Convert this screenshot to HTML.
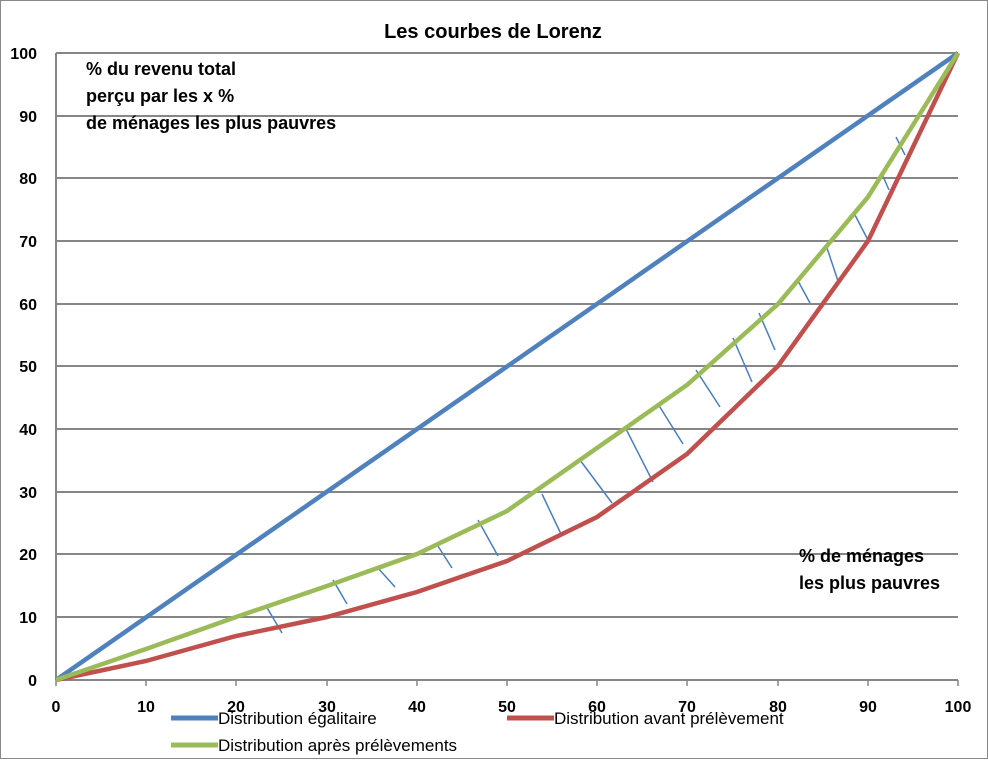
<!DOCTYPE html>
<html><head><style>
body{margin:0;background:#fff}
svg text{font-family:"Liberation Sans",sans-serif;font-weight:bold;fill:#000}
</style></head><body>
<svg width="988" height="759" viewBox="0 0 988 759" xmlns="http://www.w3.org/2000/svg">
<rect x="0.5" y="0.5" width="987" height="758" fill="#fff" stroke="#888"/>
<g stroke="#868686" stroke-width="2">
<line x1="56" y1="53" x2="958" y2="53"/><line x1="56" y1="116" x2="958" y2="116"/>
<line x1="56" y1="178" x2="958" y2="178"/><line x1="56" y1="241" x2="958" y2="241"/>
<line x1="56" y1="304" x2="958" y2="304"/><line x1="56" y1="366" x2="958" y2="366"/>
<line x1="56" y1="429" x2="958" y2="429"/><line x1="56" y1="492" x2="958" y2="492"/>
<line x1="56" y1="554" x2="958" y2="554"/><line x1="56" y1="617" x2="958" y2="617"/>
<line x1="56" y1="680" x2="958" y2="680"/>
<line x1="56" y1="53" x2="56" y2="680"/>
</g>
<g stroke="#868686" stroke-width="1.5">
<line x1="56" y1="680" x2="56" y2="686"/><line x1="146" y1="680" x2="146" y2="686"/><line x1="236" y1="680" x2="236" y2="686"/><line x1="327" y1="680" x2="327" y2="686"/><line x1="417" y1="680" x2="417" y2="686"/><line x1="507" y1="680" x2="507" y2="686"/><line x1="597" y1="680" x2="597" y2="686"/><line x1="687" y1="680" x2="687" y2="686"/><line x1="778" y1="680" x2="778" y2="686"/><line x1="868" y1="680" x2="868" y2="686"/><line x1="958" y1="680" x2="958" y2="686"/>
</g>
<g stroke="#4a7ebb" stroke-width="1.5">
<line x1="266" y1="606" x2="282" y2="633"/><line x1="333" y1="580" x2="347" y2="604"/>
<line x1="378" y1="568" x2="395" y2="587"/><line x1="436" y1="543" x2="452" y2="568"/>
<line x1="478" y1="520" x2="498" y2="556"/><line x1="542" y1="494" x2="561" y2="534"/>
<line x1="580" y1="460" x2="612" y2="503"/><line x1="625" y1="427" x2="653" y2="482"/>
<line x1="658" y1="404" x2="683" y2="444"/><line x1="696" y1="370" x2="720" y2="407"/>
<line x1="733" y1="338" x2="752" y2="382"/><line x1="759" y1="313" x2="775" y2="350"/>
<line x1="797" y1="279" x2="810" y2="303"/><line x1="826" y1="245" x2="838" y2="281"/>
<line x1="855" y1="215" x2="868" y2="240"/><line x1="882" y1="174" x2="889" y2="190"/>
<line x1="896" y1="137" x2="905" y2="155"/>
</g>
<polyline fill="none" stroke="#4f81bd" stroke-width="4.5" points="56,680 958,53"/>
<polyline fill="none" stroke="#c0504d" stroke-width="4.5" points="56,680 146,661 236,636 327,617 417,592 507,561 597,517 687,454 778,366 868,241 958,53"/>
<polyline fill="none" stroke="#9bbb59" stroke-width="4.5" points="56,680 146,649 236,617 327,586 417,554 507,511 597,448 687,385 778,304 868,197 958,53"/>
<g font-size="16" text-anchor="end">
<text x="37" y="59">100</text><text x="37" y="122">90</text><text x="37" y="184">80</text><text x="37" y="247">70</text><text x="37" y="310">60</text><text x="37" y="372">50</text><text x="37" y="435">40</text><text x="37" y="498">30</text><text x="37" y="560">20</text><text x="37" y="623">10</text><text x="37" y="686">0</text>
</g>
<g font-size="16" text-anchor="middle">
<text x="56" y="712">0</text><text x="146" y="712">10</text><text x="236" y="712">20</text><text x="327" y="712">30</text><text x="417" y="712">40</text><text x="507" y="712">50</text><text x="597" y="712">60</text><text x="687" y="712">70</text><text x="778" y="712">80</text><text x="868" y="712">90</text><text x="958" y="712">100</text>
</g>
<text x="493" y="38" font-size="20" text-anchor="middle">Les courbes de Lorenz</text>
<g font-size="18">
<text x="86" y="75">% du revenu total</text>
<text x="86" y="102">perçu par les x %</text>
<text x="86" y="129">de ménages les plus pauvres</text>
<text x="799" y="562">% de ménages</text>
<text x="799" y="589">les plus pauvres</text>
</g>
<g stroke-width="5">
<line x1="171" y1="718" x2="218" y2="718" stroke="#4f81bd"/>
<line x1="507" y1="718" x2="554" y2="718" stroke="#c0504d"/>
<line x1="171" y1="745" x2="218" y2="745" stroke="#9bbb59"/>
</g>
<g font-size="17">
<text x="218" y="724" style="font-weight:normal">Distribution égalitaire</text>
<text x="554" y="724" style="font-weight:normal">Distribution avant prélèvement</text>
<text x="218" y="751" style="font-weight:normal">Distribution après prélèvements</text>
</g>
</svg>
</body></html>
